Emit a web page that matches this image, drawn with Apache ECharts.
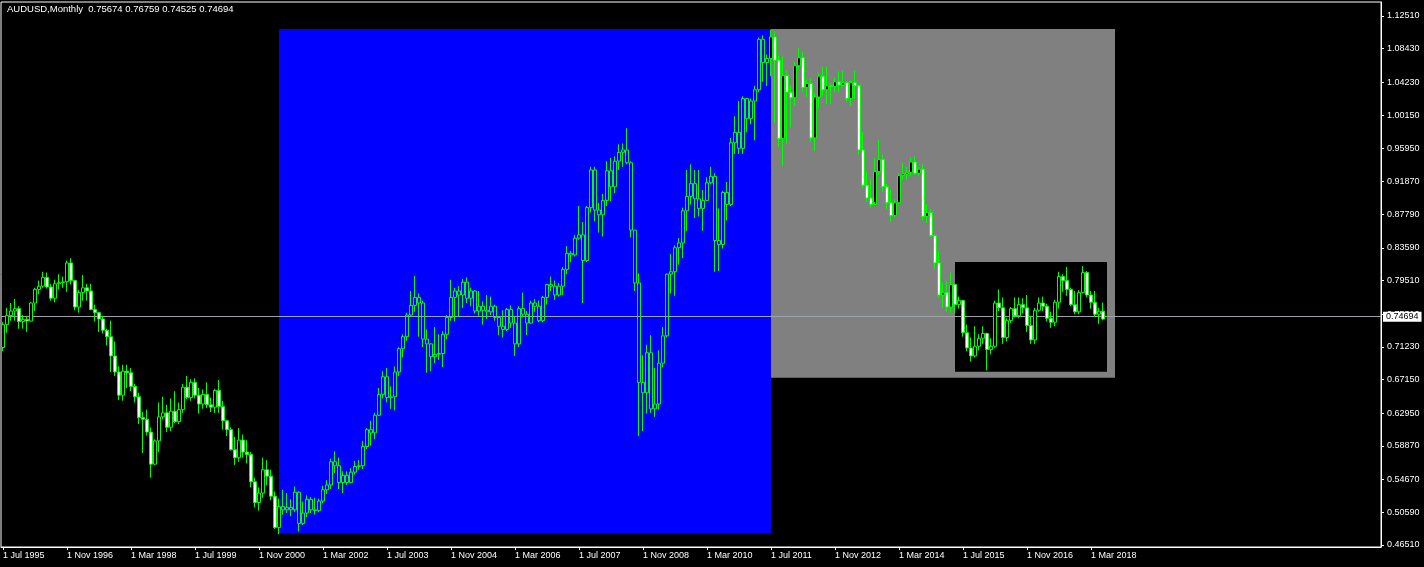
<!DOCTYPE html>
<html><head><meta charset="utf-8">
<script src="https://cdn.jsdelivr.net/npm/echarts@6/dist/echarts.min.js"></script>
<style>html,body{margin:0;padding:0;background:#000;}#c{width:1424px;height:567px;}</style>
</head><body><div id="c"></div>
<script>
const symbol = 'AUDUSD', period = 'Monthly';
// Monthly candles, Jul 1995 .. Jun 2018
const opens = [
.7115,.7400,.7515,.7570,.7600,.7440,.7465,.7445,.7670,.7840,
.7880,.7990,.7870,.7730,.7910,.7925,.7935,.8170,.7950,.7620,
.7800,.7860,.7820,.7590,.7550,.7470,.7330,.7250,.7010,.6810,
.6520,.6820,.6800,.6630,.6500,.6240,.6220,.6060,.5660,.5950,
.6250,.6300,.6120,.6320,.6190,.6340,.6620,.6490,.6680,.6520,
.6410,.6530,.6400,.6370,.6580,.6380,.6200,.6090,.5840,.5740,
.5960,.5810,.5780,.5440,.5180,.5300,.5590,.5510,.5260,.4870,
.5130,.5090,.5120,.5090,.5310,.4920,.5050,.5220,.5090,.5080,
.5200,.5340,.5400,.5690,.5640,.5430,.5520,.5430,.5560,.5630,
.5640,.5880,.6090,.6050,.6270,.6530,.6750,.6490,.6500,.6810,
.7100,.7250,.7520,.7640,.7740,.7670,.7220,.7160,.7000,.7030,
.7040,.7280,.7490,.7740,.7820,.7770,.7930,.7730,.7820,.7570,
.7630,.7580,.7560,.7630,.7490,.7380,.7340,.7590,.7420,.7160,
.7600,.7530,.7420,.7670,.7630,.7450,.7740,.7900,.7880,.7770,
.7880,.8090,.8290,.8270,.8480,.8520,.8200,.8860,.9330,.8830,
.8770,.8950,.9320,.9120,.9440,.9550,.9580,.9420,.8580,.7920,
.6680,.6550,.7050,.6350,.6410,.6920,.7260,.8030,.8060,.8360,
.8420,.8820,.9000,.9160,.8970,.8850,.8950,.9170,.9250,.8450,
.8400,.9050,.8900,.9670,.9800,.9600,1.0220,.9970,1.0190,1.0330,
1.0960,1.0670,1.0720,1.0990,1.0700,.9720,1.0510,1.0300,1.0230,1.0630,
1.0730,1.0360,1.0410,.9730,1.0240,1.0500,1.0330,1.0380,1.0370,1.0430,
1.0390,1.0420,1.0220,1.0420,1.0380,.9580,.9140,.8980,.8900,.9310,
.9460,.9120,.8920,.8760,.8920,.9260,.9280,.9300,.9430,.9290,
.9340,.8750,.8800,.8510,.8170,.7770,.7800,.7620,.7900,.7650,
.7700,.7300,.7110,.7010,.7130,.7230,.7290,.7090,.7130,.7670,
.7610,.7240,.7450,.7600,.7510,.7650,.7610,.7390,.7210,.7580,
.7670,.7630,.7480,.7430,.7680,.8000,.7950,.7840,.7650,.7560,
.7800,.8050,.7770,.7680,.7530,.75674];
const highs = [
.7430,.7610,.7670,.7720,.7630,.7520,.7510,.7680,.7860,.7950,
.8060,.8050,.7910,.7960,.8030,.8000,.8200,.8230,.7960,.7830,
.8020,.7910,.7910,.7650,.7560,.7510,.7350,.7450,.7190,.6880,
.6900,.6900,.6860,.6660,.6550,.6310,.6340,.6120,.5970,.6430,
.6500,.6400,.6480,.6570,.6430,.6660,.6760,.6720,.6730,.6610,
.6590,.6680,.6490,.6600,.6710,.6450,.6210,.6120,.6000,.6110,
.6030,.5960,.5810,.5490,.5370,.5740,.5710,.5590,.5320,.5230,
.5340,.5300,.5220,.5380,.5320,.5190,.5270,.5250,.5240,.5230,
.5390,.5460,.5730,.5820,.5740,.5570,.5570,.5610,.5700,.5710,
.5950,.6110,.6200,.6300,.6610,.6820,.6860,.6630,.6880,.7120,
.7280,.7550,.7820,.8010,.7790,.7700,.7340,.7170,.7370,.7280,
.7320,.7520,.7960,.7860,.7880,.7970,.7990,.7860,.7830,.7820,
.7690,.7770,.7750,.7650,.7500,.7580,.7610,.7640,.7500,.7630,
.7800,.7570,.7700,.7720,.7700,.7760,.7910,.8000,.7950,.7920,
.8120,.8380,.8320,.8520,.8880,.8680,.8880,.9370,.9370,.8920,
.9030,.9440,.9480,.9500,.9650,.9660,.9850,.9440,.8580,.8040,
.7020,.7150,.7270,.6860,.7080,.7370,.8040,.8280,.8390,.8480,
.8860,.9330,.9400,.9330,.9330,.9080,.9240,.9370,.9290,.8850,
.9070,.9180,.9730,1.0000,1.0190,1.0250,1.0230,1.0220,1.0380,1.0980,
1.1010,1.0770,1.1080,1.1060,1.0760,1.0750,1.0570,1.0380,1.0680,1.0850,
1.0800,1.0460,1.0470,1.0280,1.0540,1.0620,1.0620,1.0410,1.0480,1.0560,
1.0570,1.0440,1.0450,1.0570,1.0400,.9800,.9300,.9220,.9480,.9710,
.9520,.9160,.9080,.8970,.9290,.9420,.9370,.9480,.9500,.9360,
.9400,.8900,.8840,.8520,.8310,.7920,.7940,.8050,.7910,.7750,
.7710,.7400,.7240,.7380,.7280,.7380,.7300,.7230,.7700,.7840,
.7740,.7480,.7620,.7740,.7740,.7730,.7770,.7510,.7610,.7740,
.7750,.7660,.7560,.7710,.8060,.8030,.8120,.7860,.7820,.7830,
.8130,.8070,.7820,.7820,.7610,.76759];
const lows = [
.7070,.7300,.7450,.7450,.7350,.7350,.7310,.7440,.7570,.7780,
.7860,.7850,.7700,.7680,.7840,.7860,.7810,.7900,.7580,.7550,
.7700,.7700,.7580,.7440,.7310,.7290,.7140,.6810,.6760,.6460,
.6450,.6610,.6570,.6430,.6160,.5800,.6020,.5490,.5650,.5810,
.6220,.6060,.6070,.6170,.6160,.6300,.6470,.6450,.6480,.6290,
.6350,.6360,.6310,.6300,.6300,.6090,.6010,.5830,.5650,.5690,
.5740,.5670,.5370,.5120,.5080,.5240,.5400,.5210,.4850,.4785,
.5030,.5050,.5010,.5060,.4820,.4900,.5000,.5050,.5030,.5060,
.5170,.5290,.5350,.5550,.5350,.5300,.5400,.5420,.5530,.5590,
.5600,.5850,.5890,.5970,.6260,.6480,.6430,.6350,.6330,.6760,
.6990,.7200,.7510,.7560,.7250,.7120,.6800,.6820,.6920,.6960,
.6870,.7220,.7450,.7440,.7500,.7610,.7670,.7630,.7540,.7510,
.7400,.7470,.7520,.7450,.7270,.7240,.7320,.7360,.7010,.7120,
.7490,.7270,.7410,.7560,.7430,.7430,.7650,.7820,.7710,.7750,
.7770,.8030,.8180,.8250,.8460,.7670,.8180,.8800,.8690,.8550,
.8500,.8880,.8940,.9040,.9330,.9370,.9400,.8490,.7820,.6010,
.6070,.6290,.6300,.6250,.6340,.6870,.7240,.7790,.7760,.8150,
.8230,.8570,.8900,.8730,.8750,.8570,.8940,.9150,.8060,.8070,
.8350,.8700,.8880,.9530,.9530,.9530,.9800,.9900,.9700,1.0300,
1.0430,1.0380,1.0500,.9920,.9620,.9380,.9660,.9860,1.0130,1.0580,
1.0300,1.0240,.9680,.9570,1.0100,1.0260,1.0150,1.0150,1.0300,1.0300,
1.0360,1.0180,1.0130,1.0220,.9520,.9100,.8930,.8860,.8930,.9270,
.9060,.8840,.8680,.8740,.8900,.9210,.9210,.9250,.9270,.9250,
.8700,.8670,.8490,.8100,.7740,.7610,.7560,.7550,.7550,.7600,
.7250,.7070,.6940,.6990,.7080,.7160,.6830,.7030,.7110,.7570,
.7160,.7190,.7420,.7490,.7480,.7540,.7310,.7160,.7160,.7560,
.7570,.7440,.7360,.7380,.7600,.7810,.7760,.7630,.7530,.7530,
.7790,.7740,.7600,.7500,.7410,.74525];
const closes = [
.7400,.7515,.7570,.7600,.7440,.7465,.7445,.7670,.7840,.7880,
.7990,.7870,.7730,.7910,.7925,.7935,.8170,.7950,.7620,.7800,
.7860,.7820,.7590,.7550,.7470,.7330,.7250,.7010,.6810,.6520,
.6820,.6800,.6630,.6500,.6240,.6220,.6060,.5660,.5950,.6250,
.6300,.6120,.6320,.6190,.6340,.6620,.6490,.6680,.6520,.6410,
.6530,.6400,.6370,.6580,.6380,.6200,.6090,.5840,.5740,.5960,
.5810,.5780,.5440,.5180,.5300,.5590,.5510,.5260,.4870,.5130,
.5090,.5120,.5090,.5310,.4920,.5050,.5220,.5090,.5080,.5200,
.5340,.5400,.5690,.5640,.5430,.5520,.5430,.5560,.5630,.5640,
.5880,.6090,.6050,.6270,.6530,.6750,.6490,.6500,.6810,.7100,
.7250,.7520,.7640,.7740,.7670,.7220,.7160,.7000,.7030,.7040,
.7280,.7490,.7740,.7820,.7770,.7930,.7730,.7820,.7570,.7630,
.7580,.7560,.7630,.7490,.7380,.7340,.7590,.7420,.7160,.7600,
.7530,.7420,.7670,.7630,.7450,.7740,.7900,.7880,.7770,.7880,
.8090,.8290,.8270,.8480,.8520,.8200,.8860,.9330,.8830,.8770,
.8950,.9320,.9120,.9440,.9550,.9580,.9420,.8580,.7920,.6680,
.6550,.7050,.6350,.6410,.6920,.7260,.8030,.8060,.8360,.8420,
.8820,.9000,.9160,.8970,.8850,.8950,.9170,.9250,.8450,.8400,
.9050,.8900,.9670,.9800,.9600,1.0220,.9970,1.0190,1.0330,1.0960,
1.0670,1.0720,1.0990,1.0700,.9720,1.0510,1.0300,1.0230,1.0630,1.0730,
1.0360,1.0410,.9730,1.0240,1.0500,1.0330,1.0380,1.0370,1.0430,1.0390,
1.0420,1.0220,1.0420,1.0380,.9580,.9140,.8980,.8900,.9310,.9460,
.9120,.8920,.8760,.8920,.9260,.9280,.9300,.9430,.9290,.9340,
.8750,.8800,.8510,.8170,.7770,.7800,.7620,.7900,.7650,.7700,
.7300,.7110,.7010,.7130,.7230,.7290,.7090,.7130,.7670,.7610,
.7240,.7450,.7600,.7510,.7650,.7610,.7390,.7210,.7580,.7670,
.7630,.7480,.7430,.7680,.8000,.7950,.7840,.7650,.7560,.7800,
.8050,.7770,.7680,.7530,.7567,.74694];

const yTicks = [1.12510,1.08430,1.04230,1.00150,0.95950,0.91870,0.87790,0.83590,0.79510,0.75310,0.71230,0.67150,0.62950,0.58870,0.54670,0.50590,0.46510];
const xTickLabels = ['1 Jul 1995','1 Nov 1996','1 Mar 1998','1 Jul 1999','1 Nov 2000','1 Mar 2002','1 Jul 2003','1 Nov 2004','1 Mar 2006','1 Jul 2007','1 Nov 2008','1 Mar 2010','1 Jul 2011','1 Nov 2012','1 Mar 2014','1 Jul 2015','1 Nov 2016','1 Mar 2018'];

// chart objects (rectangles) anchored at time / price
const rectFrom   = ['Apr 2001','Jul 2011','May 2015'];
const rectTo     = ['Jul 2011','Sep 2018','Jul 2018'];
const rectTop    = [1.10888, 1.10888, 0.81818];
const rectBottom = [0.48007, 0.67383, 0.68128];
const rectColor  = ['#0000ff','#808080','#000000'];

// month slots (incl. empty future slots to the right edge)
const MON = ['Jan','Feb','Mar','Apr','May','Jun','Jul','Aug','Sep','Oct','Nov','Dec'];
const startYear = 1995, startMon = 6, slots = 345;
const months = [];
for (let k = 0; k < slots; k++) {
  months.push(MON[(startMon + k) % 12] + ' ' + (startYear + Math.floor((startMon + k) / 12)));
}
const tickIdx = new Map(xTickLabels.map(l => [months.indexOf(l.slice(2)), l]));

const FONT = '"Liberation Sans", Arial, sans-serif';
const last = closes.length - 1;
const blueA = months.indexOf(rectFrom[0]), blueB = months.indexOf(rectTo[0]);

const candleData = closes.map((c, i) => {
  const it = { value: [opens[i], c, lows[i], highs[i]] };
  if (i >= blueA && i < blueB) it.itemStyle = { color: 'rgba(0,0,0,0)' };
  return it;
});

function area(k) {
  return [{ xAxis: rectFrom[k], yAxis: rectTop[k], itemStyle: { color: rectColor[k], opacity: 1 } },
          { xAxis: rectTo[k], yAxis: rectBottom[k] }];
}

const chart = echarts.init(document.getElementById('c'), null, { renderer: 'canvas' });
chart.setOption({
  animation: false,
  backgroundColor: '#000',
  title: {
    text: symbol + ',' + period + '  ' + [opens[last], highs[last], lows[last], closes[last]].map(v => v.toFixed(5)).join(' '),
    left: 7, top: 4, padding: 0,
    textStyle: { color: '#fff', fontSize: 9.5, fontWeight: 'normal', fontFamily: FONT }
  },
  grid: { left: 1, right: 43, top: 2, bottom: 20, show: true, borderColor: '#fff', borderWidth: 1, backgroundColor: '#000' },
  xAxis: {
    type: 'category', data: months, boundaryGap: true,
    axisLine: { show: true, lineStyle: { color: '#fff', width: 1 } },
    axisTick: { show: true, alignWithLabel: true, length: 3, interval: i => tickIdx.has(i), lineStyle: { color: '#fff' } },
    axisLabel: { show: true, interval: i => tickIdx.has(i), formatter: (v, i) => tickIdx.get(i) || '',
      align: 'left', color: '#fff', fontSize: 9, fontFamily: FONT, margin: 4 },
    splitLine: { show: false }
  },
  yAxis: {
    type: 'value', position: 'right', min: 0.46261, max: 1.14257,
    axisLine: { show: true, lineStyle: { color: '#fff', width: 1 } },
    axisTick: { show: true, length: 3, customValues: yTicks, lineStyle: { color: '#fff' } },
    axisLabel: { show: true, customValues: yTicks, formatter: v => v.toFixed(5), color: '#fff', fontSize: 9, fontFamily: FONT, margin: 6 },
    splitLine: { show: false }
  },
  series: [
    { type: 'line', data: [], z: 1, silent: true,
      markArea: { silent: true, data: [area(0), area(1)] } },
    { type: 'line', data: [], z: 2, silent: true,
      markArea: { silent: true, data: [area(2)] } },
    { type: 'line', data: [], z: 3, silent: true,
      markLine: { symbol: 'none', silent: true, animation: false,
        data: [{ yAxis: closes[last] }],
        lineStyle: { color: '#9ea3ab', width: 1, type: 'solid' },
        label: { show: true, position: 'end', formatter: closes[last].toFixed(5), color: '#000',
          backgroundColor: '#fff', padding: [1, 3, 0, 3], fontSize: 9, fontFamily: FONT, distance: 2 } } },
    { type: 'candlestick', z: 5, data: candleData, barWidth: 3,
      itemStyle: { color: '#000000', color0: '#ffffff', borderColor: '#00ff00', borderColor0: '#00ff00', borderWidth: 1 } }
  ]
});
</script></body></html>
